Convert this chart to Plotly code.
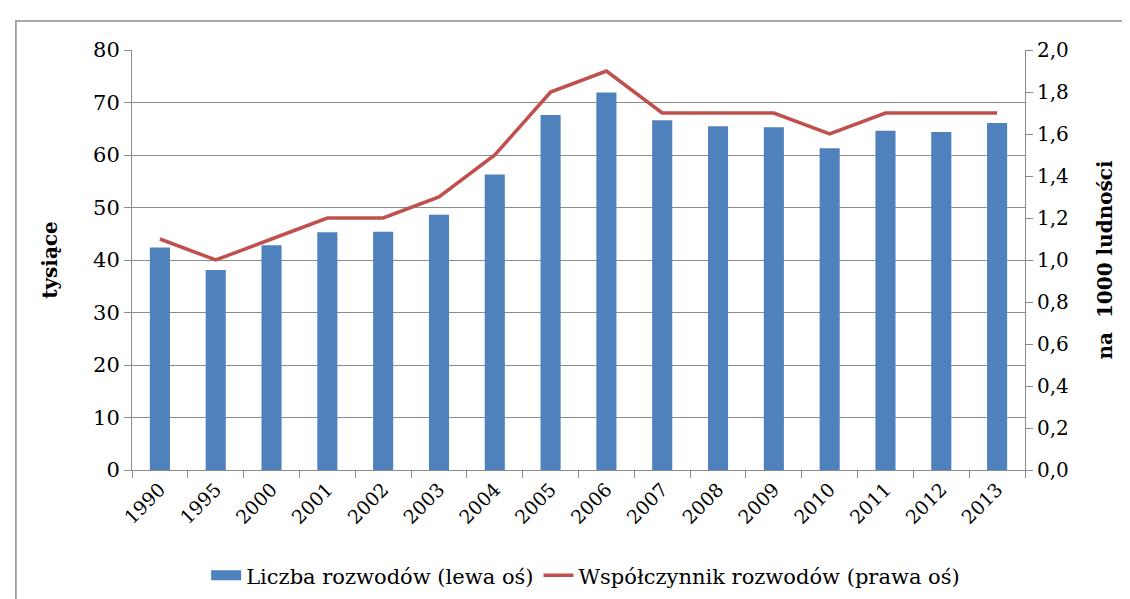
import plotly.graph_objects as go

years = ["1990", "1995", "2000", "2001", "2002", "2003", "2004", "2005",
         "2006", "2007", "2008", "2009", "2010", "2011", "2012", "2013"]
divorces_thousands = [42.4, 38.1, 42.8, 45.3, 45.4, 48.6, 56.3, 67.6,
                      71.9, 66.6, 65.5, 65.3, 61.3, 64.6, 64.4, 66.1]
divorce_rate = [1.1, 1.0, 1.1, 1.2, 1.2, 1.3, 1.5, 1.8,
                1.9, 1.7, 1.7, 1.7, 1.6, 1.7, 1.7, 1.7]

bar_name = "Liczba rozwodów (lewa oś)"
line_name = "Współczynnik rozwodów (prawa oś)"
left_title = "tysiące"
right_title = "na  1000 ludności"

BAR = "#4F81BD"
LINE = "#C0504D"
GRID = "#8C8C8C"
FONT = "DejaVu Serif"

fig = go.Figure()
fig.add_trace(go.Bar(x=years, y=divorces_thousands, marker_color=BAR,
                     marker_line_width=0, name=bar_name, showlegend=False,
                     yaxis="y"))
fig.add_trace(go.Scatter(x=[years[0]], y=[None], mode="lines",
                         line=dict(color=BAR, width=10), name=bar_name,
                         yaxis="y", legendrank=1))
fig.add_trace(go.Scatter(x=years, y=divorce_rate, mode="lines",
                         line=dict(color=LINE, width=3.5), name=line_name,
                         yaxis="y2", legendrank=2))

fig.update_layout(
    width=1130, height=599,
    margin=dict(l=124, r=113, t=42, b=136),
    paper_bgcolor="white", plot_bgcolor="white",
    separators=", ",
    font=dict(family=FONT, size=20, color="#000000"),
    bargap=0.64,
    xaxis=dict(type="category", tickangle=-45, showgrid=False,
               showline=True, linecolor=GRID, linewidth=1,
               ticks="outside", tickson="boundaries", ticklen=7,
               tickcolor=GRID, tickfont=dict(family=FONT, size=19)),
    yaxis=dict(range=[0, 80], dtick=10, showgrid=True, gridcolor=GRID,
               gridwidth=1, showline=True, linecolor=GRID, linewidth=1,
               ticks="outside", ticklen=7, tickcolor=GRID,
               zeroline=False, tickfont=dict(family=FONT, size=21),
               title=dict(text="<b>" + left_title + "</b>",
                          font=dict(family=FONT, size=20), standoff=30)),
    yaxis2=dict(range=[0, 2], dtick=0.2, tickformat=".1f", overlaying="y",
                side="right", showgrid=False, showline=True, linecolor=GRID,
                linewidth=1, ticks="outside", ticklen=7, tickcolor=GRID,
                zeroline=False, tickfont=dict(family=FONT, size=20),
                title=dict(text="<b>" + right_title + "</b>",
                           font=dict(family=FONT, size=20), standoff=30)),
    legend=dict(orientation="h", x=0.508, xanchor="center",
                y=-0.2, yanchor="top", font=dict(family=FONT, size=21),
                bgcolor="rgba(0,0,0,0)", itemwidth=30, tracegroupgap=0),
    shapes=[dict(type="rect", xref="paper", yref="paper",
                 x0=-0.13, x1=1.3, y0=-0.6, y1=1.069,
                 line=dict(color="#8C8C8C", width=1.5), layer="below")],
)

fig.write_html("out.html")
